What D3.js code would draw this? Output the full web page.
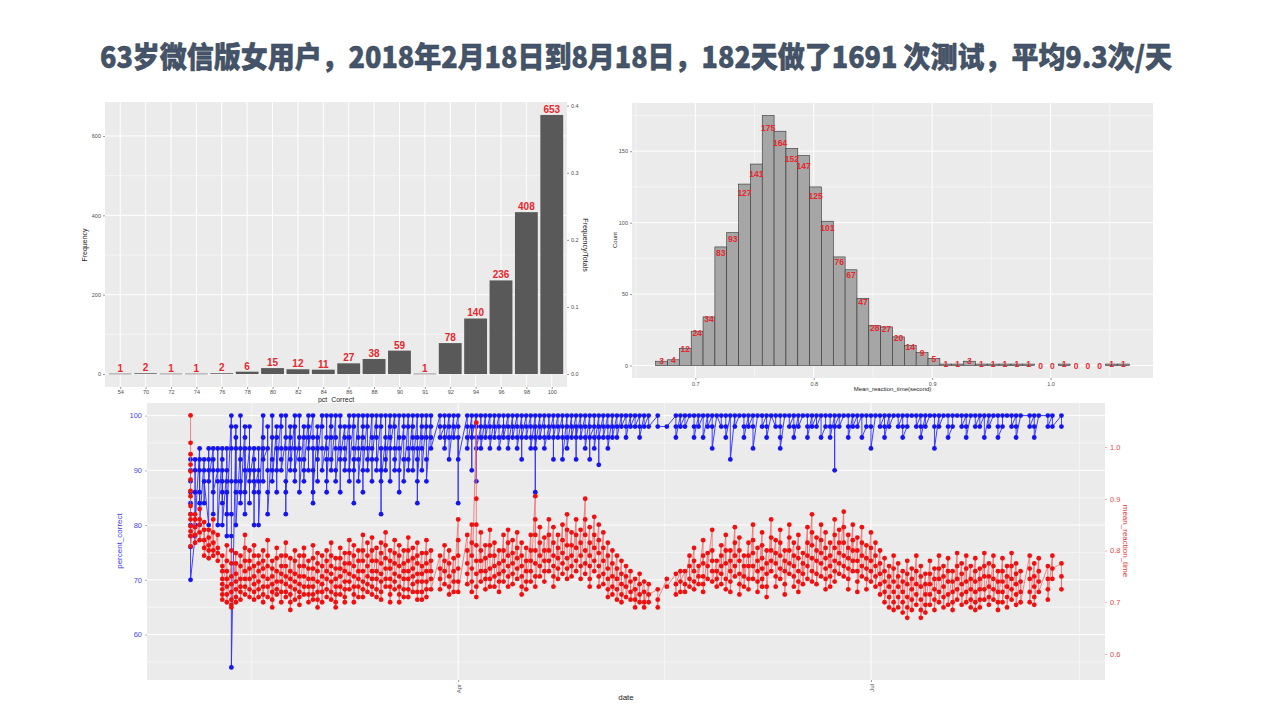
<!DOCTYPE html>
<html><head><meta charset="utf-8">
<script src="https://cdn.jsdelivr.net/npm/d3@7/dist/d3.min.js"></script>
<style>body{margin:0;background:#fff}svg{display:block}</style>
</head><body><svg id="c" width="1280" height="720"></svg>
<script>
// ---------------- DATA ----------------
const titleText = "63岁微信版女用户，2018年2月18日到8月18日，182天做了1691 次测试，平均9.3次/天";
const pctCategories = ["54","70","72","74","76","78","80","82","84","86","88","90","91","92","94","96","98","100"];
const pctCounts = [1,2,1,1,2,6,15,12,11,27,38,59,1,78,140,236,408,653];
const pctTotal = 1691;
const freqTicks = [0,200,400,600];
const freqMinor = [100,300,500];
const ratioTicks = [0,0.1,0.2,0.3,0.4];

const rtBinLow = [0.6665,0.6765,0.6865,0.6965,0.7065,0.7165,0.7265,0.7365,0.7465,0.7565,0.7665,0.7765,0.7865,0.7965,0.8065,0.8165,0.8265,0.8365,0.8465,0.8565,0.8665,0.8765,0.8865,0.8965,0.9065,0.9165,0.9265,0.9365,0.9465,0.9565,0.9665,0.9765,0.9865,0.9965,1.0065,1.0165,1.0265,1.0365,1.0465,1.0565];
const rtBinWidth = 0.01;
const rtCounts = [3,4,12,24,34,83,93,127,141,175,164,152,147,125,101,76,67,47,28,27,20,14,9,5,1,1,3,1,1,1,1,1,0,0,1,0,0,0,1,1];
const rtXTicks = [0.7,0.8,0.9,1.0];
const rtXMinor = [0.65,0.75,0.85,0.95,1.05];
const countTicks = [0,50,100,150];
const countMinor = [25,75,125,175];

const startDate = "2018-02-01";
// each entry: day offset ; percent_correct values (test order) ; mean_reaction_time values in ms (test order)
const dailyTests = [
"0;92 90 88 86 84 82 80 78 76 70;1061 1008 986 966 953 937 915 905 886 870 860 847 837 828 808",
"1;78 92 90 86 80;870 830 860 845 815","2;94 84 92 90 86 80;850 880 860 835 820",
"3;92 90 84 88;855 805 840 820 790","4;80 94 92 90 88;840 800 825 810 785",
"5;94 82 92 90 86;860 790 835 815 800","6;90 94 88 80;830 780 805 795",
"7;94 92 84 90 88 86 80;790 745 770 760 735 725 715 705","8;90 94 88 78 86 82;810 780 730 760 745 715 700",
"9;100 98 94 88 82 78 54;775 800 750 705 735 720 695 690","10;98 88 96 94 86 80;795 740 775 755 725 710 700",
"11;94 100 92 88 86 84;790 770 720 745 730 705","12;98 96 82 94 90 86;830 760 805 780 745 730 715",
"13;94 98 90 84 88;800 745 780 765 725 710",
"14;94 80 92 90 88 86;810 790 735 770 750 720 705","15;90 94 88 86 80;775 790 760 710 740 725",
"16;100 96 88 94 92;800 765 780 750 700 730 715","17;94 98 90 86 82;790 820 770 745 730 710",
"18;96 100 92 90 88;765 780 750 705 735 720 690","19;98 96 86 94 90;805 785 740 760 725 715",
"20;100 98 94 92 90;770 790 755 740 700 720","21;96 100 94 82 88 86;815 790 735 770 750 720 710",
"22;98 96 94 92 90;785 745 760 730 685 715 700","23;100 88 98 94 90;800 755 780 740 725 705",
"24;96 100 94 92 86;790 750 770 735 695 720 710","25;98 96 92 88 90;805 770 790 750 730 715",
"26;100 98 90 96 94;780 765 730 745 715 700","27;100 96 84 94 90 86;785 810 765 745 705 730 715",
"28;98 96 94 88 92;795 760 775 740 690 720 705","29;100 98 94 90;770 790 750 700 735 720",
"30;96 100 94 86 92 88;800 760 780 745 710 725","31;100 98 96 92 90;815 770 790 755 705 740 720",
"32;100 96 94 90 88;765 785 745 690 730 715 700","33;98 100 94 86 92;805 765 785 750 730 715",
"34;98 96 94 92 90;795 760 775 740 700 725 710","35;100 98 88 96 90;820 775 795 755 740 725",
"36;100 98 94 84 92 90;810 770 790 750 700 730 715","37;100 96 94 92 88;780 800 760 745 710 730",
"38;98 100 96 94 86 90;830 780 800 760 740 710 725","39;100 98 94 92 90;790 815 770 750 720 735",
"40;100 96 94 88 92;825 780 800 760 745 715 730","41;100 98 96 92 90;805 760 780 745 710 725",
"42;100 98 82 94 90 88;815 775 795 755 705 740 720","43;96 100 94 92 90;835 785 810 765 745 730",
"44;100 98 96 88 94;800 765 780 745 700 730 715","45;100 98 94 92 90;820 775 795 755 725 740",
"46;100 96 94 86 90;810 770 790 750 700 730 715","47;98 100 96 92 88;800 760 775 745 710 725",
"48;100 98 94 92 90;825 780 800 760 710 745 725","49;100 98 96 94 90;805 765 785 750 720 735",
"50;100 96 84 94 92 88;815 775 790 755 705 740 720","51;100 98 96 94 90;795 755 770 740 705 720",
"52;100 98 96 92 88;820 775 795 760 710 740 725","53;100 98 96 94;800 760 780 745 725",
"55;100 98 96;790 745 765 725","56;98 100 96 94;810 760 780 735","57;100 98 96 92;800 750 775 730 715",
"58;100 98 96;785 740 760 720","59;100 98 84 96 92;860 790 820 765 740 720",
"61;100 98 96 94;830 775 800 755 735","62;100 90 98 96;850 790 815 765 740 720",
"63;100 98 88 96 94;1047 900 850 810 780 755 730 710","64;98 100 96 94;835 780 800 760 740",
"65;100 98 96;810 760 785 745 725","66;100 98 96 94;840 790 810 765 745 730",
"67;100 98 96;815 770 790 750 730","68;100 98 96 94;800 755 775 740 720",
"69;98 100 96;830 780 800 760 740","70;100 98 96 94;840 790 815 770 750 730",
"71;100 98 96;820 775 795 755 735","72;100 98 96 94;835 785 805 765 745",
"73;100 98 92 96;815 770 790 750 730 715","74;100 98 96;805 760 780 740 725",
"75;100 98 96 94;830 780 800 760 740","76;100 86 98 96 94;905 830 860 800 775 750 730",
"77;100 98 96;845 790 815 770 750","78;100 98 96 94;825 780 800 760 740",
"79;98 100 96;860 800 830 780 760","80;100 98 92 96;845 790 815 770 750 730",
"81;100 98 96;830 785 805 765 745","82;100 98 96 92;850 795 820 775 755",
"83;100 98 96 94;870 810 840 785 765 745","84;100 98 96;835 790 810 770 750",
"85;100 92 98 96;860 805 830 780 760","86;100 98 96;840 790 815 770 745",
"87;100 98 96 94;900 830 860 800 775 755","88;100 98 92 96;845 790 815 770 745 730",
"89;98 100 96 94;865 805 830 780 760","90;100 98 91 96;850 795 820 770 750 730",
"91;100 98 96;835 780 805 755 735","92;100 98 96 94;815 765 790 745 725 710",
"93;100 98 96;800 750 775 730 715","94;100 98 96;790 745 765 725 705",
"95;100 98;780 735 755 715 700","96;100 98 96;770 730 750 710","97;100 98;760 720 740 705",
"98;100 98;745 705 725 690","99;100 98 96;755 715 735 700","100;100 98;740 700 720 690",
"101;100 98;735 700 715","103;100 98;725 690 705","105;98;745 730","107;100 98 96;755 715 735",
"108;100 98;760 720 740",
"109;100 98;760 720 735","110;100;790 745 770 730","111;100 98 96;805 760 780 740 725",
"112;100 98;770 735 750","113;100 96;820 775 790 750 735 720","114;100 98;795 745 770",
"115;100 98 94;840 780 800 760 740","116;100;780 745 760 730","117;98 100;810 770 790 755 735",
"118;100 98 96;830 775 800 745 725","119;100 92;800 760 780 740 720","120;100 98;845 790 815 770 750",
"121;100;825 780 800 755 735 715","122;100 98 96;790 750 770 730","123;100 98;815 770 790 745 725",
"124;100 98 94;850 795 820 770 745","125;100;805 760 780 740 720","126;100 98;835 785 810 765 745 730",
"127;100 98 96;800 755 775 730 710","128;100;860 800 825 780 760","129;98 100;820 775 795 750 730",
"130;100 98 96 94;840 790 815 765 745","131;100;800 760 780 735 715","132;100 98;850 800 825 775 755",
"133;100 98 96;815 770 790 750 730","134;100 98;830 785 805 760 740 720","135;100;795 755 775 735",
"136;100 98 96;845 790 815 770 745","137;100 98;870 810 835 785 760 740","138;100 98;825 780 800 755 735",
"139;100 96;850 795 820 775 750","140;98 100;835 785 805 765 745 725","141;100 98 96;815 770 790 750 730",
"142;100 90 98;860 805 830 780 760 740","143;100 98;840 795 815 775 755","144;100;875 815 845 790 770 750",
"145;100 98 96;830 785 805 765 745 725","146;100 98;850 800 820 780 760","147;100 98;825 780 800 760 740 720",
"148;100 96;845 790 815 770 750","149;98 100;810 765 785 745 725","150;100 98 94;835 780 805 760 740",
"151;100;815 770 790 750 730","152;100 98;800 755 775 735 715","153;100 98 96;785 740 760 720 700",
"154;100 98;770 730 750 710 690","155;100;790 740 765 720 700 685","156;100 98;775 730 750 710 690",
"157;100 98 96;760 720 740 700 680","158;98 100;780 735 755 710 690 670","159;100;765 725 745 705 685",
"160;100 98;790 735 760 715 695","161;100 98 96;770 730 750 705 685 670","162;100 98;755 715 735 695 680",
"163;100;780 735 755 715 695","164;100 98 94;765 725 745 705 685","165;100 98;790 745 765 720 700",
"166;100;770 730 750 710 690","167;100 98 96;785 740 760 715 695","168;98 100;760 720 740 700 685",
"169;100;795 745 770 725 705","170;100 98;775 735 755 715 695","171;100 98 96;790 740 765 720 700",
"172;100;770 725 745 705 690","173;100 98;785 740 760 720 700 685","174;100 98;765 725 745 705 690",
"175;100 96;795 750 770 725 705","176;100 98;775 730 750 710 695","177;100;790 745 770 725 705",
"178;100 98 96;760 720 740 700 685","179;98 100;785 740 760 720 700","180;100;770 730 750 710 690",
"181;100 98;795 745 770 725 705","182;100 98 96;775 735 755 715 695","183;100;760 720 740 700",
"185;100 98;790 745 765 720 700","186;100 98 96;775 730 750 710 695","187;100;785 740 760 720",
"189;100 98;770 725 745 705","190;100 98;790 745 765","192;100 98;775 725 750"
];
const dateMajor = ["2018-04-01","2018-07-01"];
const dateMajorLabels = ["Apr","Jul"];
const dateMinor = ["2018-02-14T12:00","2018-05-16T12:00","2018-08-16T00:00"];
const pctAxisTicks = [60,70,80,90,100];
const pctAxisMinor = [55,65,75,85,95];
const rtAxisTicks = [0.6,0.7,0.8,0.9,1.0];

// ---------------- DRAW ----------------
const svg = d3.select("#c");
const FONT = "'Liberation Sans', Arial, sans-serif";
const GRID = "#ebebeb";
svg.append("rect").attr("width",1280).attr("height",720).attr("fill","#fff");

svg.append("text").attr("x",636).attr("y",68).attr("text-anchor","middle")
  .attr("font-family","'Noto Sans CJK SC'").attr("font-weight",900).attr("font-size",29)
  .attr("fill","#44546a").attr("stroke","#36414f").attr("stroke-width",0.5)
  .attr("textLength",1072).attr("lengthAdjust","spacingAndGlyphs").text(titleText);

function panel(x0,y0,x1,y1){
  svg.append("rect").attr("x",x0).attr("y",y0).attr("width",x1-x0).attr("height",y1-y0).attr("fill",GRID);
}
function hline(y,x0,x1,w){svg.append("line").attr("x1",x0).attr("x2",x1).attr("y1",y).attr("y2",y).attr("stroke","#fff").attr("stroke-width",w);}
function vline(x,y0,y1,w){svg.append("line").attr("x1",x).attr("x2",x).attr("y1",y0).attr("y2",y1).attr("stroke","#fff").attr("stroke-width",w);}
function txt(x,y,s,opt){
  const t = svg.append("text").attr("x",x).attr("y",y).text(s)
    .attr("font-family",FONT).attr("font-size",opt.size||6).attr("fill",opt.fill||"#4d4d4d")
    .attr("text-anchor",opt.anchor||"middle");
  if(opt.weight) t.attr("font-weight",opt.weight);
  if(opt.rot!==undefined) t.attr("transform",`rotate(${opt.rot},${x},${y})`);
  return t;
}
function styleAxis(g,size,fill,tick){
  g.select(".domain").remove();
  g.selectAll("line").attr("stroke",tick).attr("stroke-width",0.5);
  g.selectAll("text").attr("font-family",FONT).attr("font-size",size).attr("fill",fill);
}

// ---- Chart 1: pct_Correct bar chart ----
{
  const L=105,R=567,T=102,B=387;
  panel(L,T,R,B);
  const x = d3.scalePoint().domain(pctCategories).range([L,R]).padding(0.6);
  const maxC = d3.max(pctCounts);
  const y = d3.scaleLinear().domain([-0.05*maxC, 1.05*maxC]).range([B,T]);
  freqMinor.forEach(v=>hline(y(v),L,R,0.5));
  freqTicks.forEach(v=>hline(y(v),L,R,1));
  pctCategories.forEach(c=>vline(x(c),T,B,1));
  const bw = x.step()*0.9;
  svg.append("g").selectAll("rect").data(pctCategories).join("rect")
    .attr("x",c=>x(c)-bw/2).attr("width",bw)
    .attr("y",(c,i)=>y(pctCounts[i])).attr("height",(c,i)=>Math.max(0.6,y(0)-y(pctCounts[i])))
    .attr("fill","#595959");
  pctCategories.forEach((c,i)=>txt(x(c),y(pctCounts[i])-2,String(pctCounts[i]),{size:10,weight:"bold",fill:"#e8262b"}));
  const gx = svg.append("g").attr("transform",`translate(0,${B})`).call(d3.axisBottom(x).tickSize(2).tickPadding(1));
  const gyl = svg.append("g").attr("transform",`translate(${L},0)`).call(d3.axisLeft(y).tickValues(freqTicks).tickSize(2).tickPadding(2));
  const y2 = d3.scaleLinear().domain([y.domain()[0]/pctTotal,y.domain()[1]/pctTotal]).range([B,T]);
  const gyr = svg.append("g").attr("transform",`translate(${R},0)`).call(d3.axisRight(y2).tickValues(ratioTicks).tickFormat(d3.format(".1f")).tickSize(2).tickPadding(2));
  [gx,gyl,gyr].forEach(g=>styleAxis(g,5.5,"#4d4d4d","#333"));
  txt((L+R)/2,402,"pct_Correct",{size:7,fill:"#222"});
  txt(87,245,"Frequency",{size:7,fill:"#222",rot:-90});
  txt(583,245,"Frequency/Totals",{size:7,fill:"#222",rot:90});
}

// ---- Chart 2: reaction-time histogram ----
{
  const L=632,R=1153,T=103,B=378;
  panel(L,T,R,B);
  const lo = rtBinLow[0], hi = rtBinLow[rtBinLow.length-1]+rtBinWidth;
  const pad = (hi-lo)*0.05;
  const x = d3.scaleLinear().domain([lo-pad,hi+pad]).range([L,R]);
  const maxC = d3.max(rtCounts);
  const y = d3.scaleLinear().domain([-0.05*maxC,1.05*maxC]).range([B,T]);
  countMinor.forEach(v=>hline(y(v),L,R,0.5));
  countTicks.forEach(v=>hline(y(v),L,R,1));
  rtXMinor.forEach(v=>vline(x(v),T,B,0.5));
  rtXTicks.forEach(v=>vline(x(v),T,B,1));
  svg.append("g").selectAll("rect").data(rtBinLow).join("rect")
    .attr("x",d=>x(d)).attr("width",d=>x(d+rtBinWidth)-x(d))
    .attr("y",(d,i)=>y(rtCounts[i])).attr("height",(d,i)=>y(0)-y(rtCounts[i]))
    .attr("fill","#a6a6a6").attr("stroke","#333").attr("stroke-width",0.6);
  rtBinLow.forEach((d,i)=>txt(x(d+rtBinWidth/2),y(rtCounts[i]*0.95)+3,String(rtCounts[i]),{size:8.5,weight:"bold",fill:"#e8262b"}));
  const gx = svg.append("g").attr("transform",`translate(0,${B})`).call(d3.axisBottom(x).tickValues(rtXTicks).tickFormat(d3.format(".1f")).tickSize(2).tickPadding(2));
  const gy = svg.append("g").attr("transform",`translate(${L},0)`).call(d3.axisLeft(y).tickValues(countTicks).tickSize(2).tickPadding(2));
  [gx,gy].forEach(g=>styleAxis(g,5.5,"#4d4d4d","#333"));
  txt((L+R)/2,391,"Mean_reaction_time(second)",{size:6,fill:"#222"});
  txt(617,240,"Count",{size:6,fill:"#222",rot:-90});
}

// ---- Chart 3: daily tests over time ----
{
  const L=147,R=1105,T=403,B=680;
  panel(L,T,R,B);
  const parse = d3.utcParse("%Y-%m-%d");
  const parseT = d3.utcParse("%Y-%m-%dT%H:%M");
  const t0 = parse(startDate);
  const rows = dailyTests.map(s=>{const p=s.split(";");return {date:d3.utcDay.offset(t0,+p[0]),
     pct:p[1].trim().split(/\s+/).map(Number), rt:p[2].trim().split(/\s+/).map(v=>+v/1000)};});
  const ext = d3.extent(rows,r=>r.date);
  const span = ext[1]-ext[0];
  const x = d3.scaleUtc().domain([new Date(+ext[0]-span*0.05), new Date(+ext[1]+span*0.05)]).range([L,R]);
  const yL = d3.scaleLinear().domain([51.7,102.3]).range([B,T]);
  const yR = d3.scaleLinear().domain([0.6,1.0]).range([654,447]);
  pctAxisMinor.forEach(v=>hline(yL(v),L,R,0.5));
  pctAxisTicks.forEach(v=>hline(yL(v),L,R,1));
  dateMinor.forEach(d=>vline(x(parseT(d)),T,B,0.5));
  dateMajor.forEach(d=>vline(x(parse(d)),T,B,1));
  const pPts=[], rPts=[];
  rows.forEach(r=>{r.pct.forEach(v=>pPts.push([r.date,v])); r.rt.forEach(v=>rPts.push([r.date,v]));});
  const g = svg.append("g");
  g.append("path").attr("d",d3.line().x(d=>x(d[0])).y(d=>yL(d[1]))(pPts)).attr("fill","none").attr("stroke","#2b2bff").attr("stroke-width",0.9);
  g.append("g").selectAll("circle").data(pPts).join("circle").attr("cx",d=>x(d[0])).attr("cy",d=>yL(d[1])).attr("r",2.4).attr("fill","#1515ee");
  g.append("path").attr("d",d3.line().x(d=>x(d[0])).y(d=>yR(d[1]))(rPts)).attr("fill","none").attr("stroke","#f06a6a").attr("stroke-width",0.8);
  g.append("g").selectAll("circle").data(rPts).join("circle").attr("cx",d=>x(d[0])).attr("cy",d=>yR(d[1])).attr("r",2.4).attr("fill","#f01010");
  const gl = svg.append("g").attr("transform",`translate(${L},0)`).call(d3.axisLeft(yL).tickValues(pctAxisTicks).tickSize(2).tickPadding(3));
  const gr = svg.append("g").attr("transform",`translate(${R},0)`).call(d3.axisRight(yR).tickValues(rtAxisTicks).tickFormat(d3.format(".1f")).tickSize(2).tickPadding(3));
  const gb = svg.append("g").attr("transform",`translate(0,${B})`).call(d3.axisBottom(x).tickValues(dateMajor.map(parse)).tickFormat((d,i)=>dateMajorLabels[i]).tickSize(2).tickPadding(2));
  styleAxis(gl,7.5,"#4a4ae6","#5555ee");
  styleAxis(gr,7.5,"#e64a4a","#ee5555");
  styleAxis(gb,6,"#4d4d4d","#333");
  gb.selectAll("text").attr("text-anchor","end").attr("dy","0.35em").attr("y",0).attr("transform","rotate(-90) translate(-4,0)");
  txt((L+R)/2,700,"date",{size:8,fill:"#222"});
  txt(122,541,"percent_correct",{size:8,fill:"#3a3ae0",rot:-90});
  txt(1123,541,"mean_reaction_time",{size:8,fill:"#e03a3a",rot:90});
}
</script></body></html>
